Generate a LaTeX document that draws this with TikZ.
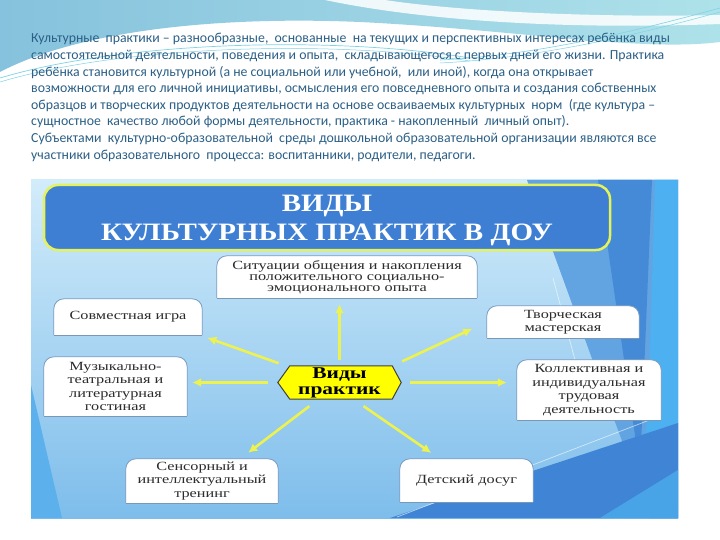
\documentclass[tikz,border=0pt]{standalone}
\usepackage{fontspec}
\setmainfont{Liberation Serif}
\newfontfamily\parafont{Carlito}
\newfontfamily\boxfont[FakeStretch=1.3]{Liberation Serif}
\newfontfamily\titlefont[FakeStretch=1.16]{Liberation Serif}
\usetikzlibrary{arrows.meta,calc}
\pgfdeclarelayer{deco}
\pgfdeclarelayer{frames}
\pgfsetlayers{deco,frames,main}
\definecolor{paracol}{HTML}{2B5F86}
\definecolor{topblue}{HTML}{86C2DD}
\definecolor{topcyan}{HTML}{AEE2EA}
\definecolor{panTop}{HTML}{D2ECFA}
\definecolor{panBot}{HTML}{7EBDEB}
\definecolor{midblue}{HTML}{62A4E2}
\definecolor{darkblue}{HTML}{4085D5}
\definecolor{bandblue}{HTML}{3F86D6}
\definecolor{cyanblue}{HTML}{4DB0F0}
\definecolor{leftblue}{HTML}{5CB0EC}
\definecolor{titleblue}{HTML}{3E7FD3}
\definecolor{titleedge}{HTML}{E6F25A}
\definecolor{boxedge}{HTML}{7B9CC4}
\definecolor{boxtext}{HTML}{2B2B2B}
\definecolor{arrowyellow}{HTML}{EDF24E}
\definecolor{hexyellow}{HTML}{FFFF00}
\definecolor{linecyan}{HTML}{7FD3E6}
\tikzset{
  para/.style={anchor=base west, inner sep=0pt, text=paracol,
    font=\parafont\fontsize{13.8}{16}\selectfont},
  boxn/.style={inner sep=0pt, align=center, text=boxtext,
    font=\boxfont\fontsize{12.5}{13.5}\selectfont},
  boxfill/.style={fill=white, draw=boxedge, line width=0.8pt, rounded corners=10pt},
  boxbottom/.style={draw=boxedge!80!gray, line width=1pt},
  titlebox/.style={fill=titleblue, draw=titleedge, line width=2.5pt, rounded corners=14pt,
    minimum width=566pt, minimum height=65pt},
  titletext/.style={inner sep=0pt, align=center, text=white,
    font=\titlefont\bfseries\fontsize{25}{29.5}\selectfont},
  hexn/.style={inner sep=0pt, align=center, text=black, minimum width=123pt, minimum height=33pt,
    font=\boxfont\bfseries\fontsize{16.5}{16}\selectfont},
  hexshape/.style={fill=hexyellow, draw=black!75, line width=1pt},
  arr/.style={draw=arrowyellow, line width=2.6pt, -{Latex[length=9pt,width=9pt]}},
}
\newcommand\topframe[1]{%
  \path[boxfill] (#1.south west) -- (#1.north west) -- (#1.north east) -- (#1.south east);
  \draw[boxbottom] (#1.south west) -- (#1.south east);}
\begin{document}
\begin{tikzpicture}[x=1pt,y=-1pt]
\useasboundingbox (0,0) rectangle (720,540);
\begin{pgfonlayer}{deco}
  \fill[white] (0,0) rectangle (720,540);
  % top band
  \shade[left color=topblue, right color=topcyan]
    (0,0) -- (720,0) -- (720,42) .. controls (640,52) and (520,30) .. (360,22)
    .. controls (220,16) and (80,30) .. (0,72) -- cycle;
  \fill[white, opacity=0.85] (325,0) .. controls (420,20) and (560,30) .. (720,24)
    -- (720,15) .. controls (580,18) and (450,10) .. (385,0) -- cycle;
  \draw[linecyan, line width=0.7pt] (0,78) .. controls (120,42) and (330,35) .. (470,58);
  \draw[linecyan, line width=0.5pt] (0,82) .. controls (120,46) and (330,39) .. (470,61);
  \draw[linecyan, line width=0.6pt] (440,60) .. controls (540,55) and (640,30) .. (720,8);
  \draw[linecyan, line width=0.5pt] (440,63) .. controls (540,58) and (640,34) .. (720,12);
  % picture panel
  \shade[top color=panTop, bottom color=panBot] (31,180) rectangle (678,518);
  \begin{scope}
    \clip (31,180) rectangle (678,518);
    \fill[midblue] (527,180) -- (678,180) -- (678,518) -- (650,518) -- cycle;
    \fill[bandblue, opacity=0.85] (598,180) -- (652,180) -- (640,470) -- cycle;
    \fill[cyanblue] (655,180) -- (678,180) -- (678,518) -- (625,518) -- (648,420) -- cycle;
    \fill[darkblue] (390,518) -- (678,423) -- (678,518) -- cycle;
    \fill[cyanblue, opacity=0.7] (600,518) -- (678,470) -- (678,518) -- cycle;
    \fill[leftblue] (31,385) -- (62,518) -- (31,518) -- cycle;
    \draw[white, opacity=0.6, line width=0.7pt] (397,517) -- (660,416);
    \draw[white, opacity=0.6, line width=0.7pt] (553,278) -- (575,360);
  \end{scope}
\end{pgfonlayer}

% paragraph text
\node[para] (p1) at (31,43) {Культурные\ \ практики – разнообразные,\ \ основанные\ \ на текущих и перспективных интересах ребёнка виды};
\node[para] (p2) at (31,59.6) {самостоятельной деятельности, поведения и опыта,\ \ складывающегося с первых дней его жизни. Практика};
\node[para] (p3) at (31,76.2) {ребёнка становится культурной (а не социальной или учебной,\ \ или иной), когда она открывает};
\node[para] (p4) at (31,92.8) {возможности для его личной инициативы, осмысления его повседневного опыта и создания собственных};
\node[para] (p5) at (31,109.4) {образцов и творческих продуктов деятельности на основе осваиваемых культурных\ \ норм\ \ (где культура –};
\node[para] (p6) at (31,126) {сущностное\ \ качество любой формы деятельности, практика - накопленный\ \ личный опыт).};
\node[para] (p7) at (31,142.6) {Субъектами\ \ культурно-образовательной\ \ среды дошкольной образовательной организации являются все};
\node[para] (p8) at (31,159.2) {участники образовательного\ \ процесса: воспитанники, родители, педагоги.};

% title
\node[titlebox] (t) at (327,217.5) {};
\node[titletext] (tt) at ([yshift=-3pt]t.center) {ВИДЫ\\КУЛЬТУРНЫХ ПРАКТИК В ДОУ};

% boxes
\node[boxn, minimum width=260pt, minimum height=42pt, font=\boxfont\fontsize{12.5}{11}\selectfont] (b1) at (347,277)
  {Ситуации общения и накопления\\положительного социально-\\эмоционального опыта};
\node[boxn, minimum width=148pt, minimum height=36pt] (b2) at (128,317) {Совместная игра};
\node[boxn, minimum width=152pt, minimum height=32pt] (b3) at (563,322) {Творческая\\мастерская};
\node[boxn, minimum width=143pt, minimum height=59pt] (b4) at (115.5,386.5)
  {Музыкально-\\театральная и\\литературная\\гостиная};
\node[boxn, minimum width=144pt, minimum height=60pt] (b5) at (589,390)
  {Коллективная и\\индивидуальная\\трудовая\\деятельность};
\node[boxn, minimum width=152pt, minimum height=44pt] (b6) at (202,481)
  {Сенсорный и\\интеллектуальный\\тренинг};
\node[boxn, minimum width=133pt, minimum height=43pt] (b7) at (466.5,480.5) {Детский досуг};
\node[hexn] (c) at (339.5,382.5) {Виды\\практик};

\begin{pgfonlayer}{frames}
  \topframe{b1}\topframe{b2}\topframe{b3}\topframe{b4}
  \topframe{b5}\topframe{b6}\topframe{b7}
  \draw[hexshape] (c.west) -- ([xshift=12pt]c.north west) -- ([xshift=-9pt]c.north east)
    -- (c.east) -- ([xshift=-9pt]c.south east) -- ([xshift=12pt]c.south west) -- cycle;
\end{pgfonlayer}

% arrows
\draw[arr, shorten <=6pt, shorten >=6pt] (c.north) -- (c.north |- b1.south);
\draw[arr, shorten <=7.6pt, shorten >=7.6pt] ([xshift=8pt]c.north west) -- ([xshift=-2pt]b2.south east);
\draw[arr, shorten <=1pt, shorten >=16pt] ([yshift=4pt]c.north east) -- (b3.west);
\draw[arr, shorten <=10pt, shorten >=5pt] (c.west) -- (c.west -| b4.east);
\draw[arr, shorten <=9pt, shorten >=10pt] (c.east) -- (c.east -| b5.west);
\draw[arr, shorten <=11.5pt, shorten >=10pt] ([xshift=-21pt]c.south) -- ([xshift=-38pt]b6.north east);
\draw[arr, shorten <=12.2pt, shorten >=10.4pt] ([xshift=14pt]c.south) -- ([xshift=40pt]b7.north west);
\end{tikzpicture}
\end{document}
